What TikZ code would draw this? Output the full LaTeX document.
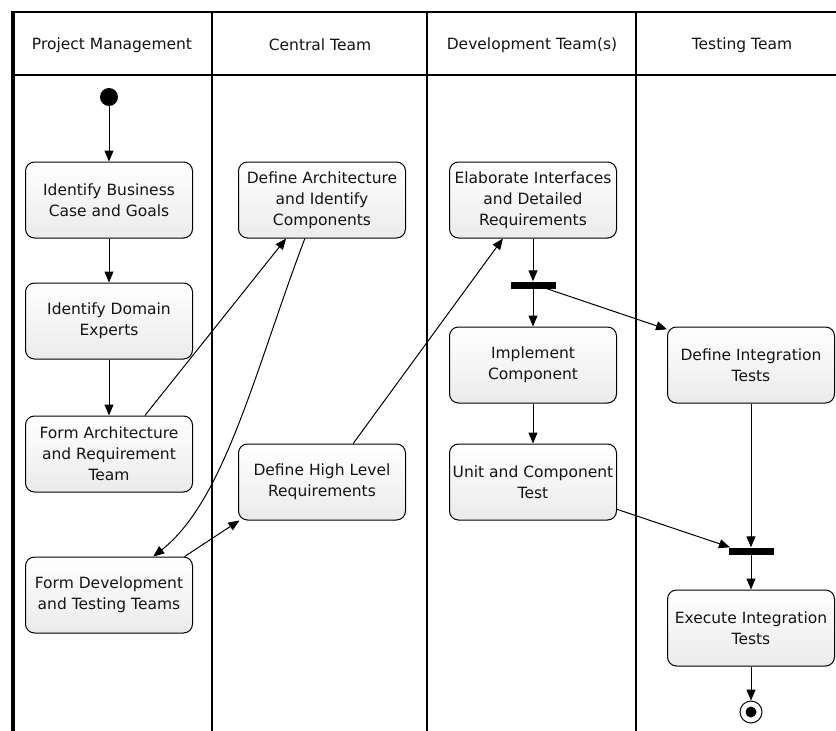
\documentclass[tikz,border=0pt]{standalone}
\usepackage{fontspec}
\setmainfont{DejaVu Sans}
\usetikzlibrary{arrows.meta,shapes.geometric}
\definecolor{ink}{HTML}{141414}
\begin{document}
\begin{tikzpicture}[x=1pt,y=-1pt,
  every node/.style={font=\fontsize{15.5}{21}\selectfont, text=ink},
  action/.style={draw=black, line width=1pt, rounded corners=9pt,
    top color=white, bottom color=gray!16, minimum width=167pt,
    minimum height=76pt, inner sep=0pt, align=center},
  lanehead/.style={anchor=center},
  flow/.style={draw=black, line width=1pt, -{Triangle[length=11pt,width=9pt]}},
  syncbar/.style={fill=black, minimum width=45pt, minimum height=7pt, inner sep=0pt},
  lane/.style={line width=1.3pt}
]
% canvas
\path[fill=white, use as bounding box] (0,0) rectangle (836,731);

% swimlane frame
\draw[lane] (212,12) -- (212,731);
\draw[lane] (427,12) -- (427,731);
\draw[lane] (636,12) -- (636,731);
\draw[line width=1.5pt] (13,75) -- (836,75);
\draw[line width=2.5pt] (11,12) -- (836,12);
\draw[line width=4pt] (13,11) -- (13,731);

% lane titles
\node[lanehead] (hPM) at (112,45) {Project Management};
\node[lanehead] (hCT) at (320,45) {Central Team};
\node[lanehead] (hDT) at (532,45) {Development Team(s)};
\node[lanehead] (hTT) at (742,45) {Testing Team};

% initial and final states
\node[circle, fill=black, minimum size=18pt, inner sep=0pt] (start) at (109,97) {};
\node[circle, draw=black, line width=1pt, minimum size=22pt, inner sep=0pt] (stop) at (751,712) {};
\fill (stop.center) circle (5.5);

% Project Management
\node[action] (B1) at (109,200) {Identify Business\\Case and Goals};
\node[action] (B2) at (109,321) {Identify Domain\\Experts};
\node[action] (B3) at (109,454) {Form Architecture\\and Requirement\\Team};
\node[action] (B4) at (109,595) {Form Development\\and Testing Teams};

% Central Team
\node[action] (C1) at (322,200) {Define Architecture\\and Identify\\Components};
\node[action] (C2) at (322,482) {Define High Level\\Requirements};

% Development Team(s)
\node[action] (D1) at (533,200) {Elaborate Interfaces\\and Detailed\\Requirements};
\node[syncbar] (bar1) at (533,285) {};
\node[action] (D2) at (533,365) {Implement\\Component};
\node[action] (D3) at (533,482) {Unit and Component\\Test};

% Testing Team
\node[action] (T1) at (751,365) {Define Integration\\Tests};
\node[syncbar] (bar2) at (751,551) {};
\node[action] (T2) at (751,628) {Execute Integration\\Tests};

% control flow
\draw[flow] (start) -- (B1);
\draw[flow] (B1) -- (B2);
\draw[flow] (B2) -- (B3);
\draw[flow] (B3.47) -- (C1.227);
\draw[flow] (C1.246) .. controls (255,370) and (225,500) .. (B4.41);
\draw[flow] (B4.27) -- (C2.205);
\draw[flow] (C2.51) -- (D1.232);
\draw[flow] (D1) -- (bar1);
\draw[flow] (bar1) -- (D2);
\draw[flow] (bar1.-15) -- (T1.157);
\draw[flow] (D2) -- (D3);
\draw[flow] (D3.-18) -- (bar2.170);
\draw[flow] (T1) -- (bar2);
\draw[flow] (bar2) -- (T2);
\draw[flow] (T2) -- (stop);
\end{tikzpicture}
\end{document}
